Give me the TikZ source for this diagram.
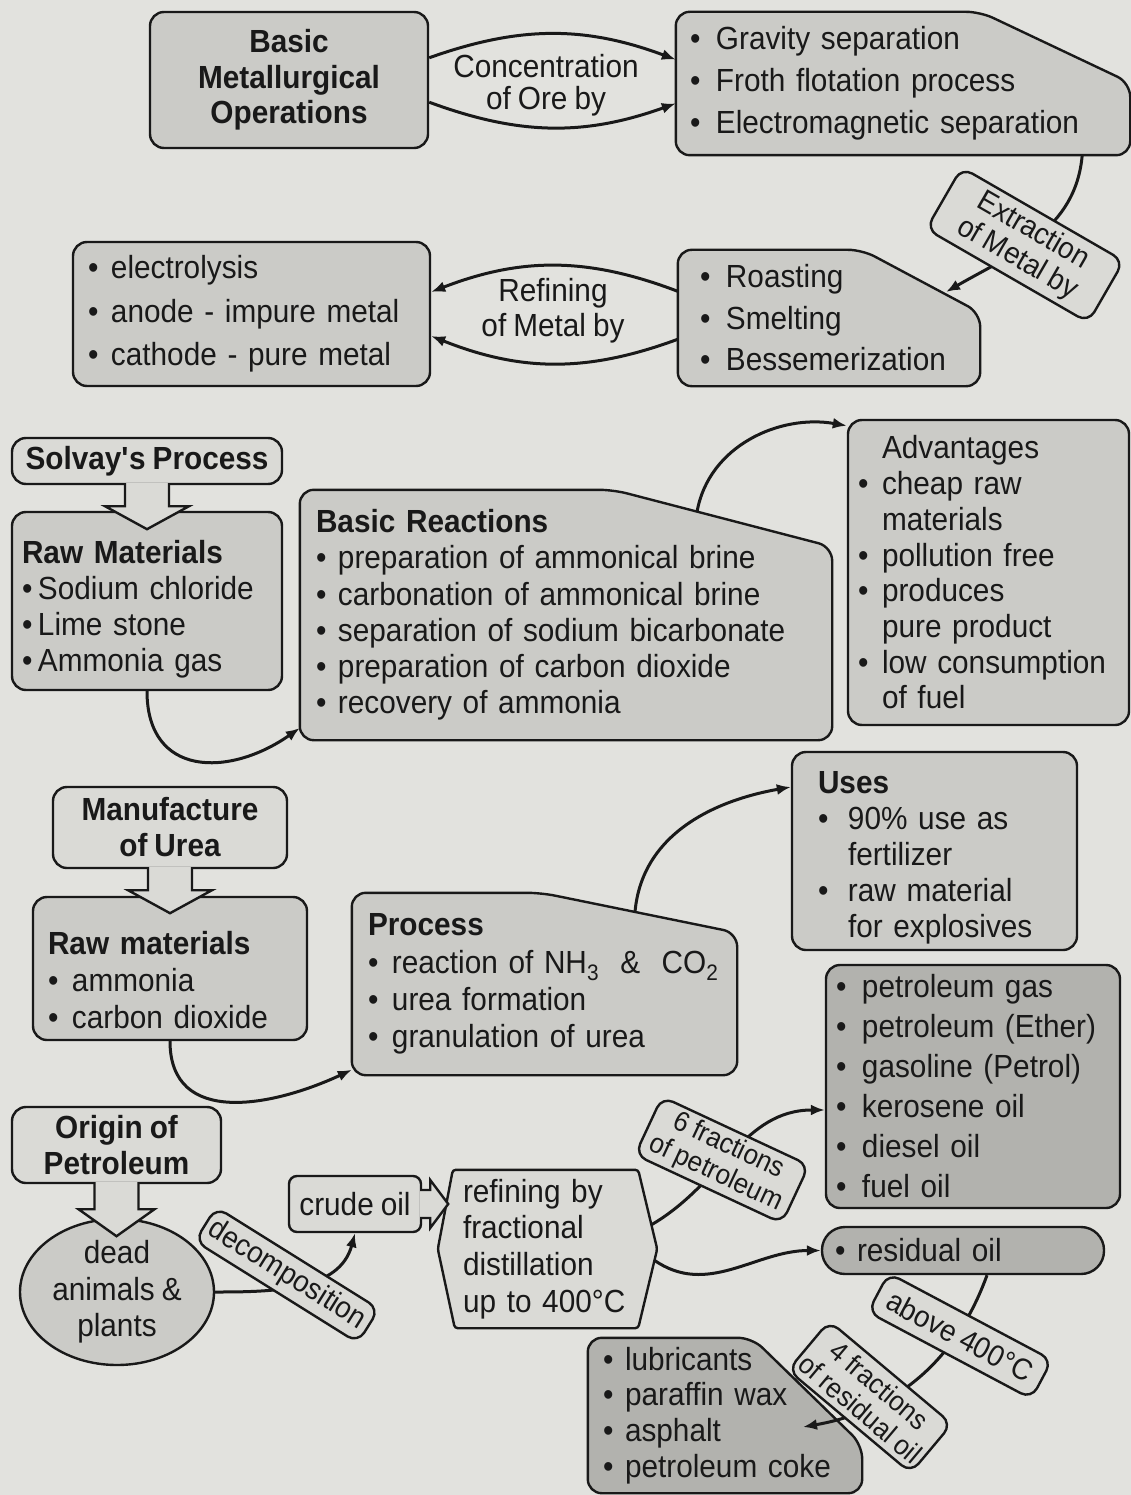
\documentclass[tikz,border=0pt]{standalone}
\usepackage{fontspec}
\setmainfont{Liberation Sans}[FakeStretch=0.93, WordSpace=0.85]
\usetikzlibrary{arrows.meta,calc,shapes.geometric}

\definecolor{paper}{RGB}{226,226,222}
\definecolor{boxfill}{RGB}{203,203,199}
\definecolor{lightfill}{RGB}{218,218,214}
\definecolor{darkfill}{RGB}{178,178,174}
\definecolor{ink}{RGB}{25,25,25}

\newcommand{\bul}[1][26pt]{\makebox[#1][l]{\textbullet}}

\pgfdeclarelayer{bg}
\pgfsetlayers{bg,main}

\tikzset{
  txt/.style={font=\fontsize{32}{#1}\selectfont},
  btxt/.style={font=\fontsize{32}{#1}\selectfont\bfseries},
  box/.style={draw=ink, line width=2.4pt, rounded corners=14pt, fill=boxfill, inner sep=0pt},
  lbox/.style={box, fill=lightfill},
  dbox/.style={box, fill=darkfill},
  chambox/.style={inner sep=0pt},
  chamline/.style={draw=ink, line width=2.4pt, rounded corners=14pt},
  tagbox/.style={draw=ink, line width=2.4pt, rounded corners=12pt, fill=lightfill, inner sep=0pt, align=center, font=\fontsize{30}{32}\selectfont},
  arr/.style={draw=ink, line width=3pt, -{Latex[length=14pt,width=11pt]}},
  hollow/.style={draw=ink, line width=2.4pt, fill=lightfill, line join=miter},
}

\begin{document}
\begin{tikzpicture}[x=1pt, y=-1pt, color=ink]
  \begin{pgfonlayer}{bg}
    \fill[paper] (0,0) rectangle (1131,1495);
  \end{pgfonlayer}
  \useasboundingbox (0,0) rectangle (1131,1495);

  % metallurgy
  \node[box, minimum width=278pt, minimum height=136pt, align=center, btxt=35.5] (bmo) at (289,80) {Basic\\Metallurgical\\Operations};
  \node[chambox, minimum width=454pt, minimum height=143pt, text width=426pt, align=left, txt=42] (ore) at (903,83.5) {\bul Gravity separation\\\bul Froth flotation process\\\bul Electromagnetic separation};
  \node[align=center, txt=32] (conc) at (546,85) {Concentration\\of Ore by};
  \node[chambox, minimum width=302pt, minimum height=136pt, text width=258pt, align=left, txt=41.5] (roast) at (829,318) {\bul Roasting\\\bul Smelting\\\bul Bessemerization};
  \node[align=center, txt=35] (refn) at (553,311) {Refining\\of Metal by};
  \node[box, minimum width=357pt, minimum height=144pt, text width=327pt, align=left, txt=43.5] (elec) at (251.5,314) {\bul[23pt]electrolysis\\\bul[23pt]anode - impure metal\\\bul[23pt]cathode - pure metal};

  % solvay
  \node[lbox, minimum width=270pt, minimum height=46pt, btxt=36] (solvay) at (147,461) {Solvay\textquotesingle s Process};
  \node[box, minimum width=270pt, minimum height=178pt, text width=250pt, align=left, txt=36] (rawm) at (147,601) {\rule{0pt}{39pt}{\bfseries Raw Materials}\\\bul[16pt]Sodium chloride\\\bul[16pt]Lime stone\\\bul[16pt]Ammonia gas};
  \node[chambox, minimum width=532pt, minimum height=250pt, text width=500pt, align=left, txt=36.2] (react) at (566,615) {{\bfseries Basic Reactions}\\\bul[22pt]preparation of ammonical brine\\\bul[22pt]carbonation of ammonical brine\\\bul[22pt]separation of sodium bicarbonate\\\bul[22pt]preparation of carbon dioxide\\\bul[22pt]recovery of ammonia};
  \node[box, minimum width=281pt, minimum height=305pt, text width=261pt, align=left, txt=35.7] (adv) at (988.5,572.5) {\hspace*{24pt}Advantages\\\bul[24pt]cheap raw\\\hspace*{24pt}materials\\\bul[24pt]pollution free\\\bul[24pt]produces\\\hspace*{24pt}pure product\\\bul[24pt]low consumption\\\hspace*{24pt}of fuel};

  % urea
  \node[lbox, minimum width=234pt, minimum height=81pt, align=center, btxt=36] (urea) at (170,827.5) {Manufacture\\of Urea};
  \node[box, minimum width=274pt, minimum height=143pt, text width=244pt, align=left, txt=37] (rawu) at (170,968.5) {\rule{0pt}{47pt}{\bfseries Raw materials}\\\bul[24pt]ammonia\\\bul[24pt]carbon dioxide};
  \node[chambox, minimum width=385pt, minimum height=182pt, text width=353pt, align=left, txt=37.3] (proc) at (544.5,984) {{\bfseries Process}\\\bul[24pt]reaction of NH\textsubscript{3} \ \& \ CO\textsubscript{2}\\\bul[24pt]urea formation\\\bul[24pt]granulation of urea};
  \node[box, minimum width=285pt, minimum height=198pt, text width=233pt, align=left, txt=36] (uses) at (934.5,851) {\rule{0pt}{35pt}{\bfseries Uses}\\\bul[30pt]90\% use as\\\hspace*{30pt}fertilizer\\\bul[30pt]raw material\\\hspace*{30pt}for explosives};

  % petroleum
  \node[dbox, minimum width=294pt, minimum height=243pt, text width=274pt, align=left, txt=40] (frac) at (973,1086.5) {\bul petroleum gas\\\bul petroleum (Ether)\\\bul gasoline (Petrol)\\\bul kerosene oil\\\bul diesel oil\\\bul fuel oil};
  \node[lbox, minimum width=209pt, minimum height=76pt, align=center, btxt=36] (origin) at (116.5,1145) {Origin of\\Petroleum};
  \node[ellipse, draw=ink, line width=2.4pt, fill=boxfill, minimum width=194pt, minimum height=146pt, inner sep=0pt, align=center, txt=36.5] (dead) at (117,1292) {dead\\animals \&\\plants};
  \node[lbox, rounded corners=8pt, minimum width=132pt, minimum height=56pt, txt=36] (crude) at (355,1204) {crude oil};
  \node[chambox, minimum width=219pt, minimum height=158pt, text width=169pt, align=left, txt=36.7] (refine) at (547.5,1249) {refining by\\fractional\\distillation\\up to 400°C};
  \node[dbox, rounded corners=23pt, minimum width=282pt, minimum height=47pt, text width=256pt, align=left, txt=36] (resid) at (963,1250.5) {\bul[22pt]residual oil};
  \node[chambox, minimum width=274pt, minimum height=155pt, text width=244pt, align=left, txt=35.7] (lub) at (725,1415.5) {\bul[22pt]lubricants\\\bul[22pt]paraffin wax\\\bul[22pt]asphalt\\\bul[22pt]petroleum coke};

  \begin{pgfonlayer}{bg}
    \draw[chamline, fill=boxfill] (ore.north west) -- ($(ore.north east)+(-150,0)$) -- ($(ore.north east)+(0,71)$) -- (ore.south east) -- (ore.south west) -- cycle;
    \draw[chamline, fill=boxfill] (roast.north west) -- ($(roast.north east)+(-118,0)$) -- ($(roast.north east)+(0,63)$) -- (roast.south east) -- (roast.south west) -- cycle;
    \draw[chamline, fill=boxfill] (react.north west) -- ($(react.north east)+(-219,0)$) -- ($(react.north east)+(0,57)$) -- (react.south east) -- (react.south west) -- cycle;
    \draw[chamline, fill=boxfill] (proc.north west) -- ($(proc.north east)+(-196,0)$) -- ($(proc.north east)+(0,40)$) -- (proc.south east) -- (proc.south west) -- cycle;
    \draw[chamline, fill=darkfill] (lub.north west) -- ($(lub.north east)+(-110,0)$) -- ($(lub.north east)+(0,107)$) -- (lub.south east) -- (lub.south west) -- cycle;
    \draw[chamline, fill=lightfill, rounded corners=3pt] ($(refine.north west)+(15,0)$) -- ($(refine.north east)+(-19,0)$) -- (refine.east) -- ($(refine.south east)+(-19,0)$) -- ($(refine.south west)+(17,0)$) -- (refine.west) -- cycle;
  \end{pgfonlayer}

  \coordinate (ext-in) at (946,292);
  \coordinate (react-top) at (697,512);
  \coordinate (proc-top) at (635,912);
  \coordinate (six-out) at (651,1225);
  \coordinate (res-out) at (654,1260);
  \coordinate (lub-in) at (803,1427);

  \draw[arr] (bmo.9) to[bend left=20] (ore.174);
  \draw[arr] (bmo.-9) to[bend right=20] (ore.185);
  \draw[arr] ($(ore.south east)+(-48,0)$) to[out=-95, in=30] (ext-in);
  \draw[arr] (roast.170) to[bend right=21] (elec.7);
  \draw[arr] (roast.188) to[bend left=21] (elec.-7.5);
  \draw[arr] (rawm.south) to[out=-90, in=215, looseness=1.4] (react.203);
  \draw[arr] (react-top) to[out=80, in=170] (adv.134);
  \draw[arr] (rawu.south) to[out=-90, in=205, looseness=1.2] (proc.204);
  \draw[arr] (proc-top) to[out=85, in=190] (uses.156);
  \draw[arr] (dead.east) to[out=0, in=-105] (crude.south);
  \draw[arr] (six-out) to[out=30, in=180] (frac.189);
  \draw[arr] (res-out) to[out=-35, in=180] (resid.west);
  \draw[arr] ($(resid.south)+(24,0)$) to[out=-110, in=10] (lub-in);

  % hollow arrows
  \draw[hollow] ($(solvay.south)+(-22,-2)$) -- ++(0,23) -- ++(-20,0) -- ($(solvay.south)+(0,44)$) -- ($(solvay.south)+(42,21)$) -- ++(-20,0) -- ++(0,-23);
  \draw[hollow] ($(urea.south)+(-22,-2)$) -- ++(0,23) -- ++(-20,0) -- ($(urea.south)+(0,44)$) -- ($(urea.south)+(42,21)$) -- ++(-20,0) -- ++(0,-23);
  \draw[hollow] ($(origin.south)+(-22,-2)$) -- ++(0,27) -- ++(-16,0) -- ($(origin.south)+(0,52)$) -- ($(origin.south)+(38,25)$) -- ++(-16,0) -- ++(0,-27);
  \draw[hollow] ($(crude.east)+(-2,-14)$) -- ++(10,0) -- ++(0,-10) -- ($(crude.east)+(26,0)$) -- ($(crude.east)+(8,24)$) -- ++(0,-10) -- ++(-10,0);

  % labels on the connectors
  \node[tagbox, rotate=-30, minimum width=187pt, minimum height=71pt] (ext) at (1025,245) {Extraction\\of Metal by};
  \node[tagbox, rotate=-32, minimum width=192pt, minimum height=40pt] (decomp) at (287,1275) {decomposition};
  \node[tagbox, rotate=-25, minimum width=162pt, minimum height=64pt, font=\fontsize{28}{30}\selectfont] (six) at (722,1160) {6 fractions\\of petroleum};
  \node[tagbox, rotate=-28, minimum width=185pt, minimum height=44pt] (above) at (960,1336) {above 400°C};
  \node[tagbox, rotate=-40, minimum width=160pt, minimum height=64pt, font=\fontsize{28}{30}\selectfont] (four) at (870,1397) {4 fractions\\of residual oil};
\end{tikzpicture}
\end{document}
